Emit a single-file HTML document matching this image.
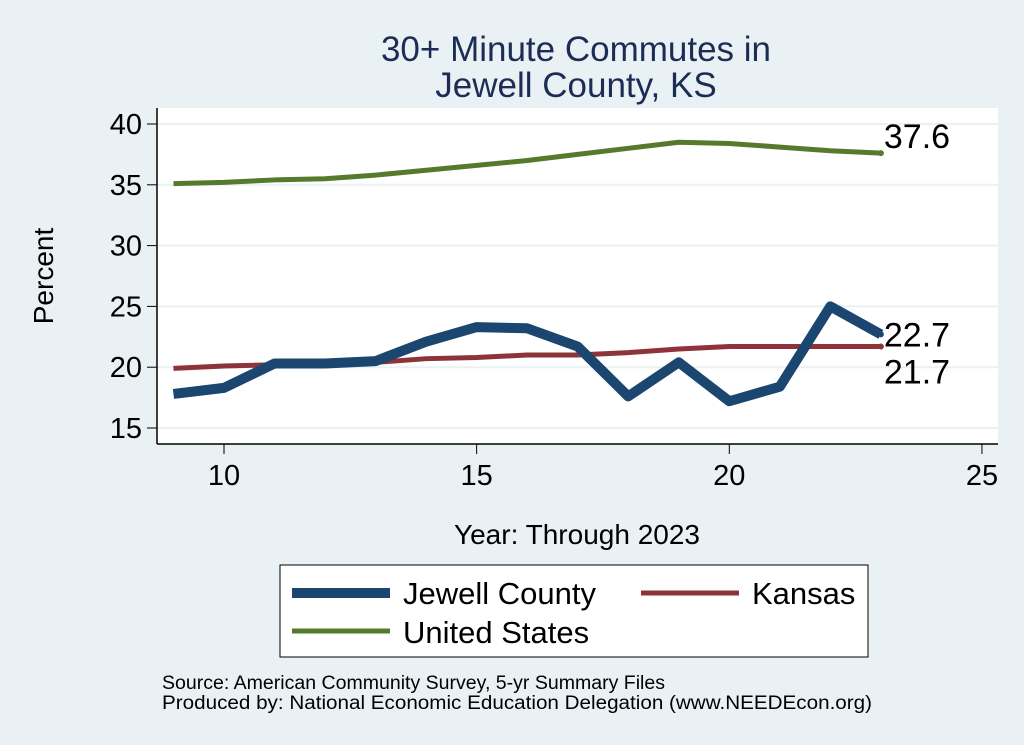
<!DOCTYPE html>
<html><head><meta charset="utf-8"><style>
body{margin:0;background:#eaf1f4;font-family:"Liberation Sans",sans-serif}
svg{display:block}
</style></head><body>
<svg width="1024" height="745">
<rect width="1024" height="745" fill="#eaf1f4"/>
<rect x="157" y="108" width="841" height="336" fill="#fff"/>
<text x="576" y="61" font-size="35" fill="#1c2d55" text-anchor="middle">30+ Minute Commutes in</text>
<text x="576" y="97" font-size="35" fill="#1c2d55" text-anchor="middle">Jewell County, KS</text>
<g id="grid"></g><g id="axes"></g><g id="series"></g>
<text x="53" y="276" font-size="28" text-anchor="middle" transform="rotate(-90 53 276)">Percent</text>
<text x="577" y="544" font-size="28" text-anchor="middle">Year: Through 2023</text>
<g>
<rect x="280" y="565" width="588" height="92" fill="#fff" stroke="#000" stroke-width="1"/>
<line x1="292" y1="593" x2="390" y2="593" stroke="#1a4670" stroke-width="10"/>
<text x="403" y="604" font-size="31">Jewell County</text>
<line x1="641" y1="593" x2="739" y2="593" stroke="#8e3339" stroke-width="5"/>
<text x="752" y="604" font-size="31">Kansas</text>
<line x1="292" y1="631" x2="390" y2="631" stroke="#567a2b" stroke-width="5"/>
<text x="403" y="643" font-size="31">United States</text>
</g>
<text x="162" y="689" font-size="19" textLength="503" lengthAdjust="spacingAndGlyphs">Source: American Community Survey, 5-yr Summary Files</text>
<text x="162" y="709" font-size="19" textLength="710" lengthAdjust="spacingAndGlyphs">Produced by: National Economic Education Delegation (www.NEEDEcon.org)</text>
</svg>
<script>
const years=[9,10,11,12,13,14,15,16,17,18,19,20,21,22,23];
const jewell=[17.8,18.3,20.3,20.3,20.5,22.1,23.3,23.2,21.7,17.6,20.4,17.2,18.4,25.0,22.7];
const kansas=[19.9,20.1,20.2,20.2,20.4,20.7,20.8,21.0,21.0,21.2,21.5,21.7,21.7,21.7,21.7];
const us=[35.1,35.2,35.4,35.5,35.8,36.2,36.6,37.0,37.5,38.0,38.5,38.4,38.1,37.8,37.6];
const yTicks=[15,20,25,30,35,40];
const xTicks=[10,15,20,25];
const NS='http://www.w3.org/2000/svg';
const X=v=>224+(v-10)*50.53;
const Y=v=>124+(40-v)*12.16;
function mk(t,a,p){const e=document.createElementNS(NS,t);for(const k in a)e.setAttribute(k,a[k]);p.appendChild(e);return e;}
const grid=document.getElementById('grid'),axes=document.getElementById('axes'),ser=document.getElementById('series');
yTicks.forEach(v=>{
 const g=mk('line',{x1:157,x2:998,y1:Y(v),y2:Y(v),stroke:'#eaf1f4','stroke-width':2},grid);
 
 
 const t=mk('line',{x1:147,x2:157,y1:Y(v),y2:Y(v),stroke:'#000'},axes);
 
 
 const l=mk('text',{x:142,y:Y(v)+10,'font-size':29,'text-anchor':'end'},axes);l.textContent=v;
 
 
});
xTicks.forEach(v=>{
 const t=mk('line',{x1:X(v),x2:X(v),y1:444,y2:454,stroke:'#000'},axes);
 
 
 const l=mk('text',{x:X(v),y:485,'font-size':29,'text-anchor':'middle'},axes);l.textContent=v;
 
 
});
const ya=mk('line',{x1:157,x2:157,y1:108,y2:444,stroke:'#000','stroke-width':1.5},axes);


const xa=mk('line',{x1:157,x2:998,y1:444,y2:444,stroke:'#000','stroke-width':1.5},axes);


function line(vals,col,w,name,dy){
 const p=mk('polyline',{points:vals.map((v,i)=>X(years[i])+','+Y(v)).join(' '),fill:'none',stroke:col,'stroke-width':w,'stroke-linejoin':'round'},ser);
 
 
 const last=vals[vals.length-1];
 const d=mk('circle',{cx:X(years[years.length-1]),cy:Y(last),r:3,fill:col},ser);
 
 
 const t=mk('text',{x:X(years[years.length-1])+3,y:Y(last)+dy,'font-size':34},ser);t.textContent=last.toFixed(1);
 
 
}
line(us,'#567a2b',5,'us-line',-5);
line(kansas,'#8e3339',5,'kansas-line',37);
line(jewell,'#1a4670',10,'jewell-line',12);
</script>
</body></html>
